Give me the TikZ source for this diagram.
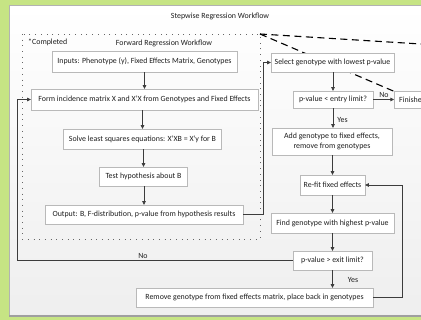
\documentclass[tikz,border=0pt]{standalone}
\usepackage{fontspec}
\setmainfont{Carlito}
\usetikzlibrary{arrows.meta,shadows}
\definecolor{bggreen}{RGB}{198,228,132}
\definecolor{txt}{RGB}{30,30,30}
\definecolor{linec}{RGB}{60,60,60}
\definecolor{boxb}{RGB}{185,185,185}
\begin{document}
\begin{tikzpicture}[x=1pt,y=-1pt,
  font=\fontsize{7.9}{9.2}\selectfont,
  box/.style={draw=boxb, fill=white, text=txt, align=center, inner sep=0pt,
    drop shadow={opacity=0.25, shadow xshift=0.8pt, shadow yshift=-0.8pt}},
  arr/.style={draw=linec, line width=0.7pt, -{Triangle[length=3.6pt,width=3.6pt]}},
  lbl/.style={text=txt, inner sep=0pt},
  dotrect/.style={draw=gray!80!black, line width=0.8pt, dash pattern=on 0.8pt off 4.9pt},
  callout/.style={draw=black, line width=1.1pt, dash pattern=on 7pt off 4.5pt}]
\useasboundingbox (0,0) rectangle (421,320);
\clip (0,0) rectangle (421,320);
% background
\fill[bggreen] (0,0) rectangle (421,320);
\shade[top color=white, bottom color=gray!13] (9,5.5) rectangle (440,315);
\draw[gray!60, line width=0.8pt] (440,5.5) -- (9,5.5) -- (9,315);
\draw[gray!75, line width=2pt] (9,316) -- (440,316);
% title
\node[lbl] (title) at (220,16) {Stepwise Regression Workflow};
% dotted region
\coordinate (dtl) at (22,34);
\coordinate (dbr) at (260,239);
\draw[dotrect] (dtl) rectangle (dbr);
\coordinate (dtr) at (260,34);
\coordinate (far1) at (440,45.2);
\coordinate (far2) at (440,111);
\draw[callout] (dtr) -- (far1);
\draw[callout] (dtr) -- (far2);
\node[lbl, anchor=west] (completed) at (28,42.5) {*Completed};
\node[lbl] (fwd) at (164,43) {Forward Regression Workflow};
% left column
\node[box, minimum width=185pt, minimum height=21pt] (inputs) at (144.5,61.5) {Inputs: Phenotype (y), Fixed Effects Matrix, Genotypes};
\node[box, minimum width=227pt, minimum height=21pt] (form) at (144.5,99.5) {Form incidence matrix X and X'X from Genotypes and Fixed Effects};
\node[box, minimum width=158pt, minimum height=20pt] (solve) at (142.5,139) {Solve least squares equations: X'XB = X'y for B};
\node[box, minimum width=88pt, minimum height=19pt] (test) at (143.5,176.5) {Test hypothesis about B};
\node[box, minimum width=198pt, minimum height=19pt] (output) at (144,214.5) {Output: B, F-distribution, p-value from hypothesis results};
% right column
\node[box, minimum width=123pt, minimum height=19pt] (select) at (332.5,62.5) {Select genotype with lowest p-value};
\node[box, minimum width=80pt, minimum height=17pt] (entry) at (333,99.5) {p-value {\textless} entry limit?};
\node[box, minimum width=50pt, minimum height=17pt, anchor=west, text width=44pt, align=left] (finished) at (394,99.5) {\hspace*{2pt}Finished};
\node[box, minimum width=120pt, minimum height=27pt] (add) at (332,141.5) {Add genotype to fixed effects,\\ remove from genotypes};
\node[box, minimum width=65pt, minimum height=20pt] (refit) at (332.5,185) {Re-fit fixed effects};
\node[box, minimum width=123pt, minimum height=20pt] (find) at (332.5,223) {Find genotype with highest p-value};
\node[box, minimum width=79pt, minimum height=19pt] (exit) at (332.5,260.5) {p-value {\textgreater} exit limit?};
\node[box, minimum width=237pt, minimum height=19pt] (remove) at (254.5,297.5) {Remove genotype from fixed effects matrix, place back in genotypes};
% connectors left
\draw[arr] (inputs.south -| form.north) -- (form.north);
\draw[arr] (form.south -| solve.north) -- (solve.north);
\draw[arr] (solve.south -| test.north) -- (test.north);
\draw[arr] (test.south -| output.north) -- (output.north);
\draw[arr] (output.east) -- ++(20,0) |- (select.west);
% connectors right
\draw[arr] (select.south -| entry.north) -- (entry.north);
\draw[arr] (entry.east) -- (finished.west);
\node[lbl] (nolbl1) at (384,95) {No};
\draw[arr] (entry.south) -- (add.north -| entry.south);
\node[lbl] (yes1) at (342.5,119.5) {Yes};
\draw[arr] (add.south -| refit.north) -- (refit.north);
\draw[arr] (refit.south) -- (find.north -| refit.south);
\draw[arr] (find.south -| exit.north) -- (exit.north);
\draw[arr] (exit.south) -- (remove.north -| exit.south);
\node[lbl] (yes2) at (353,280) {Yes};
\coordinate (rx) at (402,0);
\draw[arr] (remove.east) -- (remove.east -| rx) |- (refit.east);
\coordinate (lx) at (17,0);
\draw[arr] (exit.west) -- (exit.west -| lx) |- (form.west);
\node[lbl] (nolbl2) at (143,255.5) {No};
\end{tikzpicture}
\end{document}
